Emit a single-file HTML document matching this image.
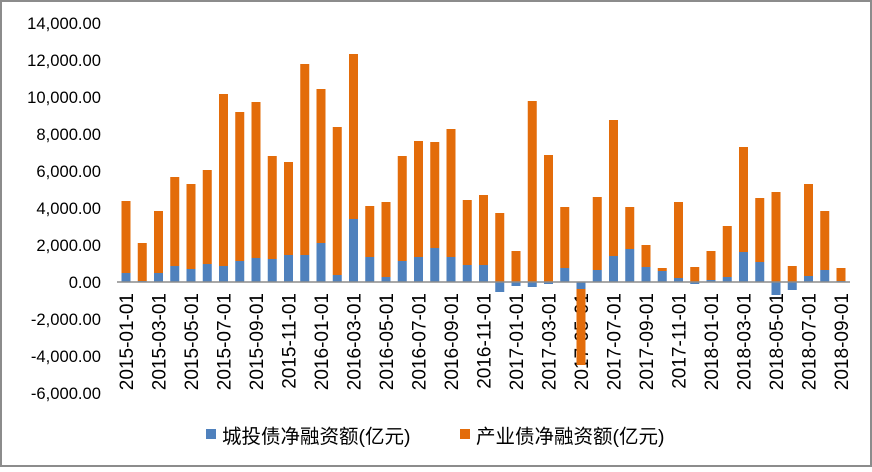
<!DOCTYPE html>
<html><head><meta charset="utf-8"><style>
body{margin:0;background:#fff;}
svg text{font-family:"Liberation Sans","Noto Sans CJK SC",sans-serif;fill:#000;}
</style></head><body>
<svg width="872" height="467" xmlns="http://www.w3.org/2000/svg">
<rect x="1" y="1" width="870" height="465" fill="#fff" stroke="#8c8c8c" stroke-width="2"/>
<g font-size="16.6" text-anchor="end" id="yl"></g>
<g id="xl" font-size="19"></g>
<g id="bars"></g>
<line x1="117" y1="282" x2="850" y2="282" stroke="#8c8c8c" stroke-width="1.5"/>
<rect x="206" y="429" width="10" height="10" fill="#4f81bd"/>
<text x="222" y="443" font-size="19.5">城投债净融资额(亿元)</text>
<rect x="460" y="429" width="10" height="10" fill="#e36c0a"/>
<text x="476" y="443" font-size="19.5">产业债净融资额(亿元)</text>
</svg>
<script>
var ns="http://www.w3.org/2000/svg";
function el(t,a,p,txt){var e=document.createElementNS(ns,t);for(var k in a)e.setAttribute(k,a[k]);if(txt)e.textContent=txt;document.getElementById(p).appendChild(e);}
var labs=["14,000.00","12,000.00","10,000.00","8,000.00","6,000.00","4,000.00","2,000.00","0.00","-2,000.00","-4,000.00","-6,000.00"];
for(var i=0;i<labs.length;i++){el("text",{x:101,y:29+i*37},"yl",labs[i]);}
var d=[[201,273],[243,281],[211,273],[177,266],[184,269],[170,264],[94,266],[112,261],[102,258],[156,259],[162,255],[64,255],[89,243],[127,275],[54,219],[206,257],[202,277],[156,261],[141,257],[142,248],[129,257],[200,265],[195,265],[213,292],[251,286],[101,287],[155,284],[207,268],[null,289],[197,270],[120,256],[207,249],[245,267],[268,271],[202,278],[267,284],[251,280],[226,277],[147,252],[198,262],[192,295],[266,290],[184,276],[211,270],[268,281]];
for(var i=0;i<d.length;i++){
 var cx=126+i*16.25;
 if(i%2==0){var y=2015+Math.floor(i/12),m=i%12+1;var s=y+"-"+(m<10?"0":"")+m+"-01";
  el("text",{x:0,y:0,transform:"translate("+(cx+7)+",293) rotate(-90)","text-anchor":"end"},"xl",s);}
}
for(var i=0;i<d.length;i++){
 var cx=126+i*16.25,x=cx-4.5,t=d[i][0],b=d[i][1];
 if(b<=282){el("rect",{x:x,y:b,width:9,height:282-b,fill:"#4f81bd"},"bars");
  el("rect",{x:x,y:t,width:9,height:b-t,fill:"#e36c0a"},"bars");}
 else{el("rect",{x:x,y:282,width:9,height:b-282,fill:"#4f81bd"},"bars");
  if(t===null)el("rect",{x:x,y:b,width:9,height:365-b,fill:"#e36c0a"},"bars");
  else el("rect",{x:x,y:t,width:9,height:282-t,fill:"#e36c0a"},"bars");}
}
</script>
</body></html>
